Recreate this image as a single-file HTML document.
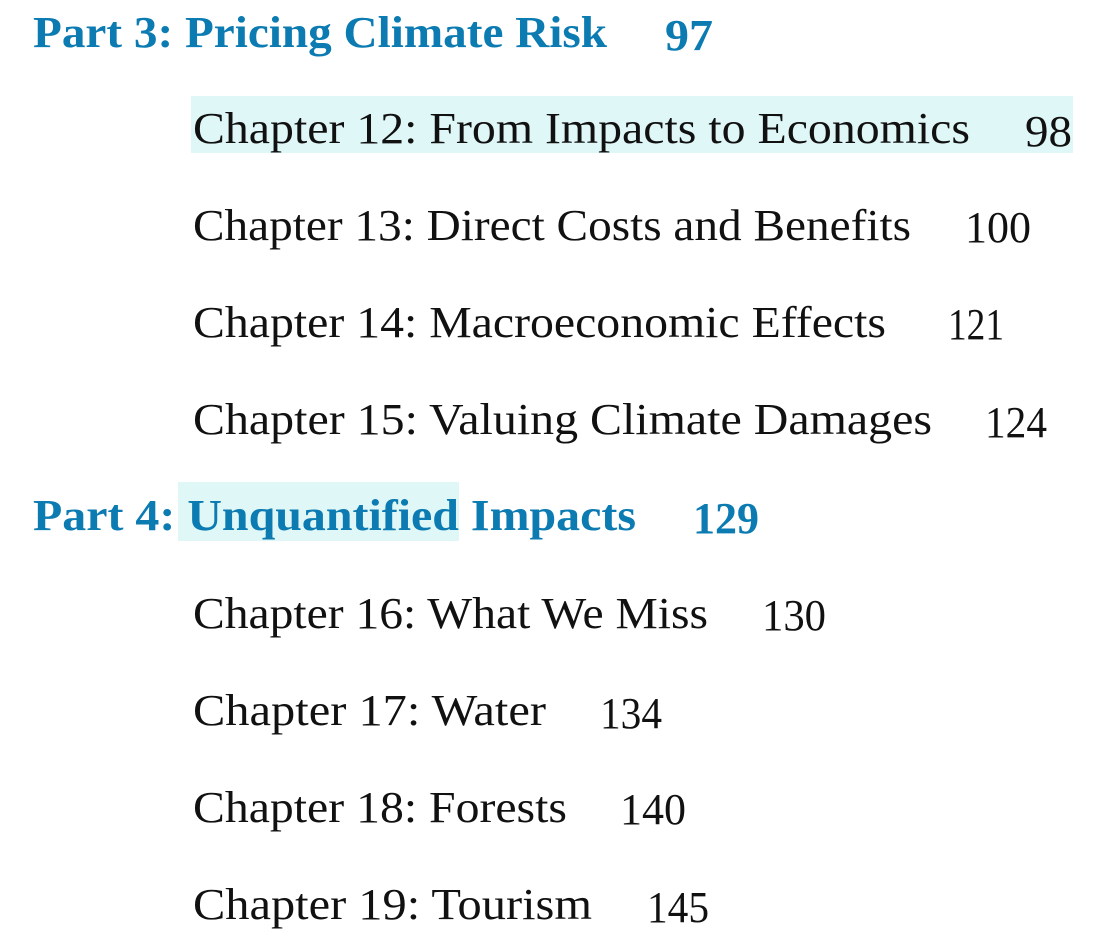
<!DOCTYPE html>
<html>
<head>
<meta charset="utf-8">
<style>
  html,body{margin:0;padding:0;background:#ffffff;}
  svg{display:block;}
  .part{font-family:"Liberation Serif",serif;font-weight:bold;fill:#0b7bb2;font-size:44px;}
  .ch{font-family:"Liberation Serif",serif;fill:#111111;font-size:44px;}
</style>
</head>
<body>
<svg width="1099" height="947" viewBox="0 0 1099 947">
  <rect x="191" y="96" width="882" height="57" fill="#dff7f7"/>
  <rect x="178" y="482" width="281" height="59" fill="#dff7f7"/>

  <text class="part" x="33" y="47" textLength="574" lengthAdjust="spacingAndGlyphs">Part 3: Pricing Climate Risk</text>
  <text class="part" x="665" y="50" textLength="48" lengthAdjust="spacingAndGlyphs">97</text>

  <text class="ch" x="193" y="143" textLength="777" lengthAdjust="spacingAndGlyphs">Chapter 12: From Impacts to Economics</text>
  <text class="ch" x="1025" y="146" textLength="47" lengthAdjust="spacingAndGlyphs">98</text>

  <text class="ch" x="193" y="240" textLength="718" lengthAdjust="spacingAndGlyphs">Chapter 13: Direct Costs and Benefits</text>
  <text class="ch" x="965" y="242" textLength="66" lengthAdjust="spacingAndGlyphs">100</text>

  <text class="ch" x="193" y="337" textLength="693" lengthAdjust="spacingAndGlyphs">Chapter 14: Macroeconomic Effects</text>
  <text class="ch" x="948" y="339" textLength="56" lengthAdjust="spacingAndGlyphs">121</text>

  <text class="ch" x="193" y="434" textLength="739" lengthAdjust="spacingAndGlyphs">Chapter 15: Valuing Climate Damages</text>
  <text class="ch" x="985" y="437" textLength="62" lengthAdjust="spacingAndGlyphs">124</text>

  <text class="part" x="33" y="530" textLength="603" lengthAdjust="spacingAndGlyphs">Part 4: Unquantified Impacts</text>
  <text class="part" x="693" y="533" textLength="66" lengthAdjust="spacingAndGlyphs">129</text>

  <text class="ch" x="193" y="628" textLength="515" lengthAdjust="spacingAndGlyphs">Chapter 16: What We Miss</text>
  <text class="ch" x="762" y="630" textLength="64" lengthAdjust="spacingAndGlyphs">130</text>

  <text class="ch" x="193" y="725" textLength="353" lengthAdjust="spacingAndGlyphs">Chapter 17: Water</text>
  <text class="ch" x="600" y="728" textLength="62" lengthAdjust="spacingAndGlyphs">134</text>

  <text class="ch" x="193" y="822" textLength="374" lengthAdjust="spacingAndGlyphs">Chapter 18: Forests</text>
  <text class="ch" x="620" y="824" textLength="66" lengthAdjust="spacingAndGlyphs">140</text>

  <text class="ch" x="193" y="919" textLength="399" lengthAdjust="spacingAndGlyphs">Chapter 19: Tourism</text>
  <text class="ch" x="647" y="922" textLength="62" lengthAdjust="spacingAndGlyphs">145</text>
</svg>
</body>
</html>
